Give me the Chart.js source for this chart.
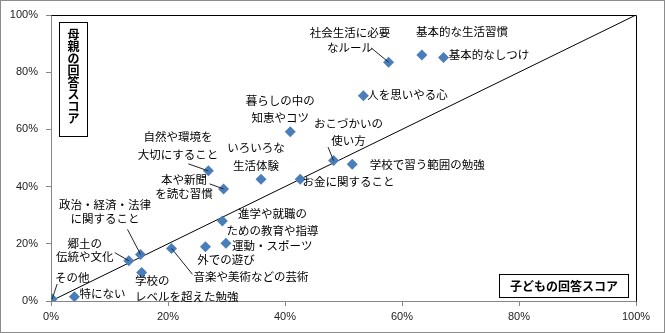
<!DOCTYPE html>
<html>
<head>
<meta charset="utf-8">
<script src="https://cdn.jsdelivr.net/npm/chart.js@4.4.1/dist/chart.umd.min.js"></script>
<style>
  html, body { margin: 0; padding: 0; background: #fff; }
  #wrap { width: 665px; height: 333px; }
</style>
</head>
<body>
<div id="wrap"><canvas id="scoreChart" width="665" height="333"></canvas></div>
<script>
// items (label lines split with \n)
const items = [
  'その他', '特にない', '郷土の\n伝統や文化', '政治・経済・法律\nに関すること',
  '学校の\nレベルを超えた勉強', '音楽や美術などの芸術', '外での遊び', '運動・スポーツ',
  '進学や就職の\nための教育や指導', '本や新聞\nを読む習慣', '自然や環境を\n大切にすること',
  'いろいろな\n生活体験', 'お金に関すること', '暮らしの中の\n知恵やコツ', 'おこづかいの\n使い方',
  '学校で習う範囲の勉強', '人を思いやる心', '社会生活に必要\nなルール', '基本的な生活習慣', '基本的なしつけ'
];
// child answer score (%) -> x
const childScore = [0.2, 4, 13.3, 15.3, 15.5, 20.6, 26.4, 29.9, 29.3, 29.5, 26.9, 35.9, 42.6, 40.9, 48.3, 51.5, 53.4, 57.7, 63.4, 67.1];
// mother answer score (%) -> y
const motherScore = [0.7, 1.5, 14.1, 16.3, 10.0, 18.4, 19.0, 20.2, 28.0, 39.2, 45.5, 42.6, 42.6, 59.2, 49.1, 47.8, 71.8, 83.5, 86.0, 85.1];
// reference line x = y
const diagX = [0, 100];
const diagY = [0, 100];
const tickValues = [0, 20, 40, 60, 80, 100];

// label placement relative to the marker: [dx, dy, lineHeight, align, leaderDx, leaderDy]
const labelPlace = [
  [20, -21, 0, 'center', 5, -15],
  [28, -3, 0, 'center'],
  [-44, -17, 13, 'center', -14, -8],
  [-35.5, -50, 14, 'center', -13, -25],
  [-6.7, 8.6, 16, 'left'],
  [79.5, 28.6, 0, 'center', 21, 26],
  [20.6, 13.3, 0, 'center'],
  [6, 2, 0, 'left'],
  [50, -7, 17, 'center'],
  [-39.6, -9, 14, 'center', -14, -5],
  [-30.4, -34, 18, 'center', -20, -7],
  [-5, -32, 18, 'center'],
  [48.3, 2, 0, 'center'],
  [-10, -31, 17, 'center'],
  [15, -37, 17, 'center', -5.5, -13.5],
  [75, 0, 0, 'center'],
  [44, -1, 0, 'center'],
  [-38.5, -30, 15, 'center', -17, -14],
  [40, -23, 0, 'center'],
  [45.5, -2.6, 0, 'center']
];

const FONT_JP = '"Noto Sans CJK JP", "Noto Sans", sans-serif';

const decorations = {
  id: 'decorations',
  afterDatasetsDraw(chart) {
    const ctx = chart.ctx;
    const area = chart.chartArea;
    const meta = chart.getDatasetMeta(1);
    ctx.save();

    // plot border top / right
    ctx.strokeStyle = '#000';
    ctx.lineWidth = 1;
    ctx.beginPath();
    ctx.moveTo(Math.round(area.left) + 0.5, Math.round(area.top) + 0.5);
    ctx.lineTo(Math.round(area.right) + 0.5, Math.round(area.top) + 0.5);
    ctx.lineTo(Math.round(area.right) + 0.5, Math.round(area.bottom) + 0.5);
    ctx.stroke();

    // point labels + leader lines
    ctx.font = '11.5px ' + FONT_JP;
    ctx.fillStyle = '#000';
    ctx.textBaseline = 'middle';
    meta.data.forEach((pt, i) => {
      const p = labelPlace[i];
      if (p[4] !== undefined) {
        ctx.strokeStyle = '#222';
        ctx.beginPath();
        ctx.moveTo(pt.x, pt.y);
        ctx.lineTo(pt.x + p[4], pt.y + p[5]);
        ctx.stroke();
      }
      ctx.textAlign = p[3];
      items[i].split('\n').forEach((line, k) => {
        ctx.fillText(line, pt.x + p[0], pt.y + p[1] + k * p[2]);
      });
    });

    // axis title boxes
    ctx.font = 'bold 12px ' + FONT_JP;
    ctx.lineWidth = 1;
    ctx.strokeStyle = '#000';
    ctx.fillStyle = '#fff';
    ctx.fillRect(59.5, 22.5, 28, 114);
    ctx.strokeRect(59.5, 22.5, 28, 114);
    ctx.fillStyle = '#000';
    ctx.textAlign = 'center';
    const yTitle = '母親の回答スコア';
    for (let k = 0; k < yTitle.length; k++) {
      ctx.fillText(yTitle[k], 73.5, 34 + k * 12);
    }
    ctx.fillStyle = '#fff';
    ctx.fillRect(499.5, 274.5, 129, 23);
    ctx.strokeRect(499.5, 274.5, 129, 23);
    ctx.fillStyle = '#000';
    ctx.fillText('子どもの回答スコア', 564, 286.5);

    // outer frame
    ctx.strokeStyle = '#8c8c8c';
    ctx.strokeRect(0.5, 0.5, chart.width - 1, chart.height - 1);
    ctx.restore();
  }
};

const axisCommon = {
  type: 'linear',
  min: 0,
  max: 100,
  afterBuildTicks: s => { s.ticks = tickValues.map(v => ({ value: v })); },
  ticks: {
    callback: v => v + '%',
    font: { family: '"Liberation Sans", Arial, sans-serif', size: 11 },
    color: '#222'
  },
  grid: { drawOnChartArea: false, drawTicks: true, tickLength: 5, color: '#868686' },
  border: { color: '#868686' }
};

new Chart(document.getElementById('scoreChart'), {
  type: 'scatter',
  data: {
    datasets: [
      {
        data: diagX.map((x, i) => ({ x: x, y: diagY[i] })),
        showLine: true,
        borderColor: '#000',
        borderWidth: 1,
        pointRadius: 0,
        order: 2
      },
      {
        data: childScore.map((x, i) => ({ x: x, y: motherScore[i] })),
        pointStyle: 'rectRot',
        pointRadius: 5.5,
        backgroundColor: '#4a7ebb',
        borderColor: '#4a7ebb',
        borderWidth: 0,
        order: 1
      }
    ]
  },
  options: {
    responsive: false,
    devicePixelRatio: 1,
    animation: false,
    events: [],
    layout: { padding: { top: 15, right: 29, left: 0, bottom: 0 } },
    plugins: { legend: { display: false }, tooltip: { enabled: false } },
    scales: {
      x: Object.assign({}, axisCommon, {
        ticks: Object.assign({}, axisCommon.ticks, { padding: 4 }),
        afterFit: s => { s.height = 32; }
      }),
      y: Object.assign({}, axisCommon, {
        ticks: Object.assign({}, axisCommon.ticks, { padding: 8 }),
        afterFit: s => { s.width = 51; }
      })
    }
  },
  plugins: [decorations]
});
</script>
</body>
</html>
